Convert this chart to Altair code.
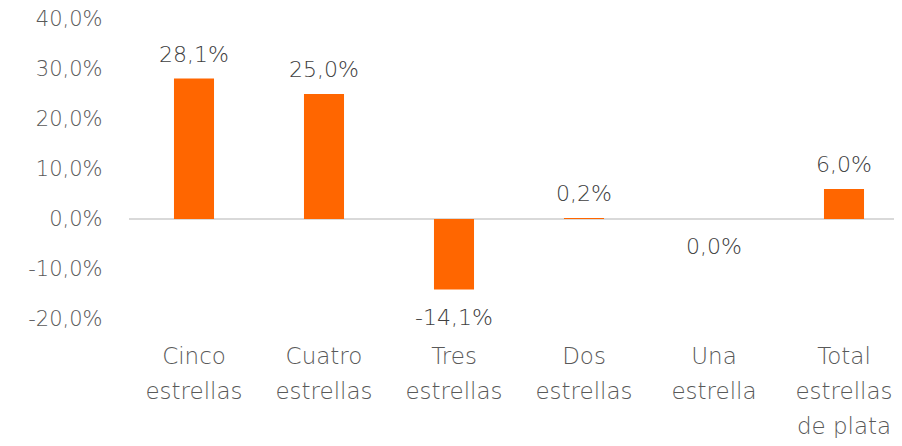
import altair as alt
import pandas as pd

categories = ["Cinco estrellas", "Cuatro estrellas", "Tres estrellas",
              "Dos estrellas", "Una estrella", "Total estrellas de plata"]
wrapped = [["Cinco", "estrellas"], ["Cuatro", "estrellas"], ["Tres", "estrellas"],
           ["Dos", "estrellas"], ["Una", "estrella"], ["Total", "estrellas", "de plata"]]
values = [28.1, 25.0, -14.1, 0.2, -0.01, 6.0]
labels = ["28,1%", "25,0%", "-14,1%", "0,2%", "0,0%", "6,0%"]
y_ticks = [-20, -10, 0, 10, 20, 30, 40]

df = pd.DataFrame({"cat": categories, "v": values, "lab": labels})

FONT = "DejaVu Sans"
WEIGHT = 300
label_expr = " : ".join(
    f"datum.value == '{c}' ? {w!r}" for c, w in zip(categories, wrapped)
) + " : datum.value"

xscale = alt.Scale(range=[0, 780], paddingInner=0.692, paddingOuter=0.346)
yscale = alt.Scale(domain=[-20, 40], nice=False, zero=False)

base = alt.Chart(df)

bars = base.mark_bar(color="#FF6600").encode(
    x=alt.X("cat:N", sort=categories, scale=xscale, title=None,
            axis=alt.Axis(labelExpr=label_expr, labelAngle=0, labelFont=FONT,
                          labelFontWeight=WEIGHT,
                          labelFontSize=23, labelColor="#595959", labelPadding=26,
                          labelLineHeight=35, labelBaseline="top",
                          domain=False, ticks=False, labelLimit=300)),
    y=alt.Y("v:Q", scale=yscale, title=None,
            axis=alt.Axis(values=y_ticks, grid=False, domain=False, ticks=False,
                          labelFont=FONT, labelFontSize=21, labelColor="#595959",
                          labelFontWeight=WEIGHT, labelPadding=27,
                          labelExpr="replace(replace(format(datum.value, '.1f'), '.', ','), '\u2212', '-') + '%'")),
)

zero = base.mark_rule(color="#D9D9D9", strokeWidth=1.5).encode(
    y=alt.datum(0), x=alt.value(0), x2=alt.value(780)
)

pos = base.transform_filter("datum.v >= 0").mark_text(
    baseline="bottom", dy=-12, font=FONT, fontWeight=WEIGHT, fontSize=22, color="#404040"
).encode(x=alt.X("cat:N", sort=categories), y="v:Q", text="lab:N")

neg = base.transform_filter("datum.v < 0").mark_text(
    baseline="top", dy=18, font=FONT, fontWeight=WEIGHT, fontSize=22, color="#404040"
).encode(x=alt.X("cat:N", sort=categories), y="v:Q", text="lab:N")

chart = alt.layer(zero, bars, pos, neg).properties(
    width=765, height=300,
    autosize=alt.AutoSizeParams(type="none"),
    padding={"left": 121, "top": 11, "right": 0, "bottom": 119},
).configure_view(stroke=None)

chart.save("out.html", embed_options={"renderer": "svg", "actions": False})
